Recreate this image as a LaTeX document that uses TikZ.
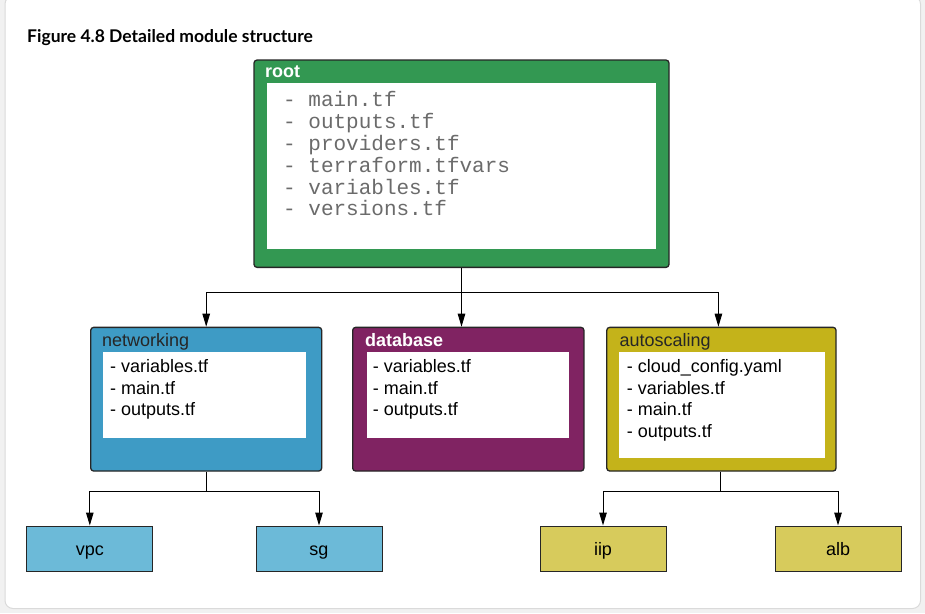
\documentclass[tikz,border=0pt]{standalone}
\usepackage{fontspec}
\setmainfont{Liberation Sans}
\newfontfamily\titlefont{Lato}
\newfontfamily\codefont{Liberation Mono}
\usetikzlibrary{arrows.meta}
\definecolor{rootgreen}{RGB}{51,152,82}
\definecolor{netblue}{RGB}{62,155,197}
\definecolor{dbpurple}{RGB}{128,35,98}
\definecolor{asolive}{RGB}{196,179,26}
\definecolor{leafblue}{RGB}{108,186,216}
\definecolor{leafolive}{RGB}{215,203,92}
\definecolor{pagegray}{RGB}{241,241,241}
\definecolor{cardgray}{RGB}{218,218,218}

\begin{document}
\begin{tikzpicture}[x=1pt, y=-1pt,
  >={Triangle[length=13pt, width=7.5pt]},
  every node/.style={font=\fontsize{18}{21.5}\selectfont},
  modbox/.style={rectangle, draw=black!85, line width=1.3pt, rounded corners=3pt, minimum height=143.7pt},
  modlabel/.style={anchor=base west, inner sep=0pt},
  filebox/.style={rectangle, fill=white, inner sep=0pt},
  filelist/.style={anchor=north west, align=left, inner sep=0pt},
  leaf/.style={rectangle, draw=black!85, line width=1pt, minimum width=126pt, minimum height=45pt, text height=13pt, text depth=0pt},
  treeedge/.style={->, line width=1pt},
]

% ---- page and card ----
\useasboundingbox (0,0) rectangle (925,613);
\fill[pagegray] (0,0) rectangle (925,613);
\draw[cardgray, fill=white, line width=1pt, rounded corners=8pt] (5,-4) rectangle (920.5,608.5);

\node[anchor=base west, inner sep=0pt, font=\titlefont\bfseries\fontsize{17.5}{20}\selectfont] (title) at (27,42) {Figure 4.8 Detailed module structure};

% ---- root module ----
\node[modbox, fill=rootgreen, minimum width=415pt, minimum height=207.3pt] (root) at (461.5,163.7) {};
\node[modlabel, text=white, font=\bfseries\fontsize{18}{21.5}\selectfont] (rootlabel) at (265,77.3) {root};
\node[filebox, minimum width=389.3pt, minimum height=165.4pt] (rootfiles) at (461.4,166) {};
\node[filelist, text=black!58, font=\codefont\fontsize{21}{21.8}\selectfont] (rootlist) at (283,91.5)
  {- main.tf\\- outputs.tf\\- providers.tf\\- terraform.tfvars\\- variables.tf\\- versions.tf};

% ---- child modules ----
\node[modbox, fill=netblue, minimum width=231pt] (networking) at (206.2,399.2) {};
\node[modlabel, text=black!85] (netlabel) at (102,346) {networking};
\node[filebox, minimum width=202.7pt, minimum height=85.4pt] (netfiles) at (204.7,395) {};
\node[filelist] (netlist) at (110,359.5) {- variables.tf\\- main.tf\\- outputs.tf};

\node[modbox, fill=dbpurple, minimum width=231.3pt] (database) at (468.3,399.2) {};
\node[modlabel, text=white, font=\bfseries\fontsize{18}{21.5}\selectfont] (dblabel) at (365,346) {database};
\node[filebox, minimum width=202.6pt, minimum height=85.4pt] (dbfiles) at (468,395) {};
\node[filelist] (dblist) at (372.7,359.5) {- variables.tf\\- main.tf\\- outputs.tf};

\node[modbox, fill=asolive, minimum width=229.3pt] (autoscaling) at (721.4,399.2) {};
\node[modlabel, text=black!85] (aslabel) at (619.5,346) {autoscaling};
\node[filebox, minimum width=205.7pt, minimum height=106pt] (asfiles) at (722.2,405.3) {};
\node[filelist] (aslist) at (626.7,359.5) {- cloud\_config.yaml\\- variables.tf\\- main.tf\\- outputs.tf};

% ---- leaf modules ----
\node[leaf, fill=leafblue] (vpc) at (89.8,548.5) {vpc};
\node[leaf, fill=leafblue] (sg) at (319,548.5) {sg};
\node[leaf, fill=leafolive] (iip) at (603,548.5) {iip};
\node[leaf, fill=leafolive] (alb) at (838,548.5) {alb};

% ---- connectors ----
\coordinate (rootsplit) at (461.5,292);
\coordinate (netsplit) at (206.2,491);
\coordinate (assplit) at (720,491);

\draw[line width=1pt] (root) -- (rootsplit);
\draw[treeedge] (rootsplit) -| (networking);
\draw[treeedge] (rootsplit) -- (rootsplit |- database.north);
\draw[treeedge] (rootsplit) -| ([xshift=-3pt]autoscaling.north);

\draw[line width=1pt] (networking) -- (netsplit);
\draw[treeedge] (netsplit) -| (vpc);
\draw[treeedge] (netsplit) -| (sg);

\draw[line width=1pt] (assplit |- autoscaling.south) -- (assplit);
\draw[treeedge] (assplit) -| (iip);
\draw[treeedge] (assplit) -| (alb);

\end{tikzpicture}
\end{document}
